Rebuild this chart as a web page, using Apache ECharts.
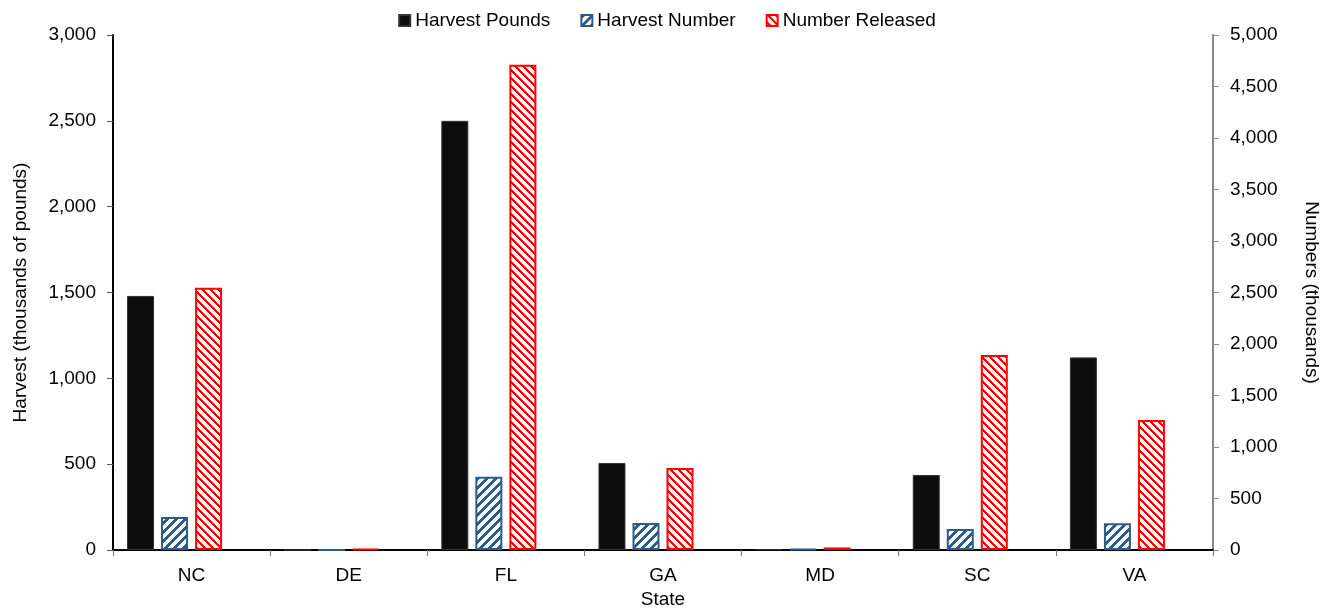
<!DOCTYPE html>
<html>
<head>
<meta charset="utf-8">
<script src="https://cdn.jsdelivr.net/npm/echarts@6/dist/echarts.min.js"></script>
<style>
html,body{margin:0;padding:0;background:#fff;}
#chart{width:1334px;height:612px;}
</style>
</head>
<body>
<div id="chart"></div>
<script>
const categories = ['NC', 'DE', 'FL', 'GA', 'MD', 'SC', 'VA'];
const harvestPounds = [1480, 0, 2500, 507, 5, 437, 1122];      // thousands of pounds (left axis)
const harvestNumber = [320, 1, 710, 262, 8, 204, 259];         // thousands (right axis)
const numberReleased = [2545, 12, 4710, 796, 25, 1893, 1262];  // thousands (right axis)
const emptySlot = [null, null, null, null, null, null, null];  // unused 4th bar slot in the original layout
const leftTicks = [0, 500, 1000, 1500, 2000, 2500, 3000];
const rightTicks = [0, 500, 1000, 1500, 2000, 2500, 3000, 3500, 4000, 4500, 5000];

function stripePattern(period, thick, rgb, dir) {
  const c = document.createElement('canvas');
  c.width = period; c.height = period;
  const ctx = c.getContext('2d');
  const img = ctx.createImageData(period, period);
  for (let y = 0; y < period; y++) {
    for (let x = 0; x < period; x++) {
      const k = dir > 0 ? ((x + y) % period) : ((x - y + period * 8) % period);
      const on = k < thick;
      const i = (y * period + x) * 4;
      img.data[i] = on ? rgb[0] : 255;
      img.data[i + 1] = on ? rgb[1] : 255;
      img.data[i + 2] = on ? rgb[2] : 255;
      img.data[i + 3] = 255;
    }
  }
  ctx.putImageData(img, 0, 0);
  return c;
}

const bluePat = stripePattern(9, 4, [46, 92, 138], 1);
const redPat = stripePattern(8, 3, [255, 0, 0], -1);

const fmt = v => v.toLocaleString('en-US');
const font = 'Liberation Sans, Arial, sans-serif';

const chart = echarts.init(document.getElementById('chart'));
chart.setOption({
  animation: false,
  backgroundColor: '#fff',
  textStyle: { fontFamily: font, color: '#000' },
  legend: {
    top: 6,
    left: 'center',
    icon: 'rect',
    itemWidth: 11,
    itemHeight: 11,
    itemGap: 30,
    textStyle: { fontSize: 19, color: '#000', fontFamily: font },
    data: ['Harvest Pounds', 'Harvest Number', 'Number Released']
  },
  grid: { left: 113, right: 121, top: 35, bottom: 62, containLabel: false, outerBoundsMode: 'none' },
  xAxis: {
    type: 'category',
    data: categories,
    name: 'State',
    nameLocation: 'middle',
    nameGap: 40,
    nameTextStyle: { fontSize: 19, color: '#000', fontFamily: font },
    axisLine: { lineStyle: { color: '#000', width: 2 } },
    axisTick: { show: true, length: 6, interval: 0, lineStyle: { color: '#777' } },
    axisLabel: { fontSize: 19, color: '#000', margin: 16, fontFamily: font, interval: 0 }
  },
  yAxis: [
    {
      type: 'value',
      min: leftTicks[0],
      max: leftTicks[leftTicks.length - 1],
      interval: leftTicks[1] - leftTicks[0],
      name: 'Harvest (thousands of pounds)',
      nameLocation: 'middle',
      nameGap: 83,
      nameTextStyle: { fontSize: 19, color: '#000', fontFamily: font },
      axisLine: { show: true, lineStyle: { color: '#000', width: 2 } },
      axisTick: { show: true, length: 6, lineStyle: { color: '#555' } },
      axisLabel: { fontSize: 19, color: '#000', margin: 17, formatter: fmt, fontFamily: font },
      splitLine: { show: false }
    },
    {
      type: 'value',
      position: 'right',
      min: rightTicks[0],
      max: rightTicks[rightTicks.length - 1],
      interval: rightTicks[1] - rightTicks[0],
      name: 'Numbers (thousands)',
      nameLocation: 'middle',
      nameRotate: -90,
      nameGap: 89,
      nameTextStyle: { fontSize: 19, color: '#000', fontFamily: font },
      axisLine: { show: true, lineStyle: { color: '#888', width: 2 } },
      axisTick: { show: true, length: 6, lineStyle: { color: '#888' } },
      axisLabel: { fontSize: 19, color: '#000', margin: 17, formatter: fmt, fontFamily: font },
      splitLine: { show: false }
    }
  ],
  series: [
    {
      name: 'Harvest Pounds',
      type: 'bar',
      yAxisIndex: 0,
      data: harvestPounds,
      barWidth: 27,
      barGap: '26%',
      itemStyle: { color: '#0d0d0d', borderColor: '#333', borderWidth: 1 }
    },
    {
      name: 'Harvest Number',
      type: 'bar',
      yAxisIndex: 1,
      data: harvestNumber,
      barWidth: 27,
      barGap: '26%',
      itemStyle: { color: { image: bluePat, repeat: 'repeat' }, borderColor: '#2E5C8A', borderWidth: 2 }
    },
    {
      name: 'Number Released',
      type: 'bar',
      yAxisIndex: 1,
      data: numberReleased,
      barWidth: 27,
      barGap: '26%',
      itemStyle: { color: { image: redPat, repeat: 'repeat' }, borderColor: '#ff0000', borderWidth: 2 }
    },
    {
      name: 'slot',
      type: 'bar',
      yAxisIndex: 1,
      data: emptySlot,
      barWidth: 27,
      barGap: '26%',
      itemStyle: { color: 'rgba(0,0,0,0)' }
    }
  ]
});
</script>
</body>
</html>
